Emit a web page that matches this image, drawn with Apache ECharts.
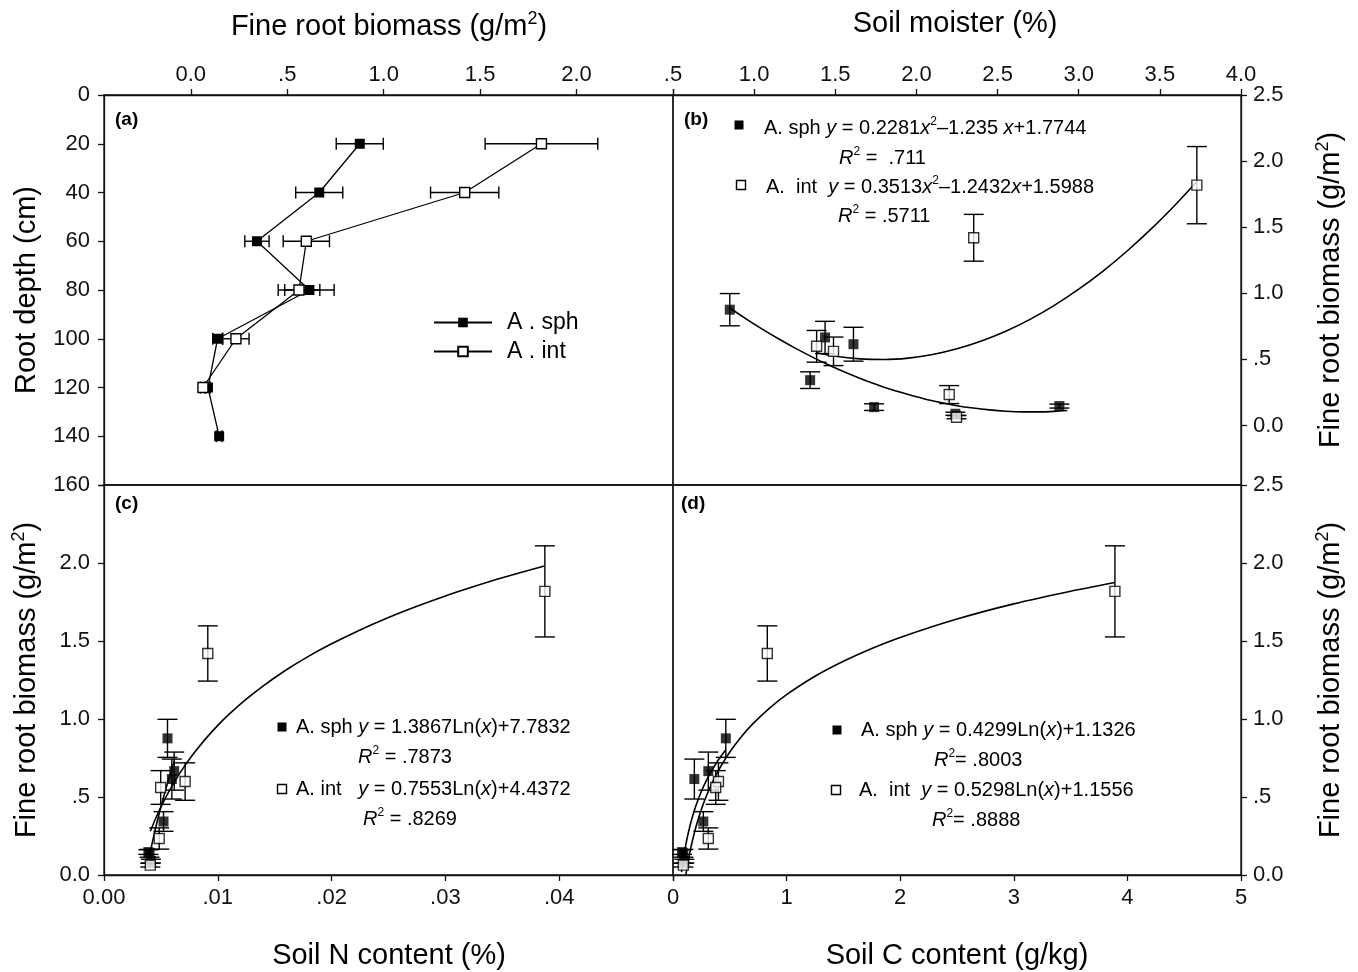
<!DOCTYPE html>
<html><head><meta charset="utf-8">
<script src="https://cdn.jsdelivr.net/npm/echarts@6/dist/echarts.min.js"></script>
<style>html,body{margin:0;padding:0;background:#fff}#c{width:1358px;height:972px}</style>
</head><body><div id="c"></div>
<script>
// ---------- data ----------
const sphDepth = [20, 40, 60, 80, 100, 120, 140];
const sphBiomass = [0.876, 0.666, 0.343, 0.615, 0.139, 0.089, 0.147];
const sphBiomassSE = [0.122, 0.122, 0.063, 0.128, 0.025, 0.012, 0.015];
const intDepth = [20, 40, 60, 80, 100, 120];
const intBiomass = [1.818, 1.420, 0.599, 0.561, 0.234, 0.063];
const intBiomassSE = [0.292, 0.177, 0.120, 0.108, 0.068, 0.012];

const sphMoisture = [0.85, 1.437, 1.345, 1.612, 1.739, 2.24, 2.881];
const intMoisture = [3.728, 2.353, 1.385, 1.489, 2.202, 2.247];
const sphN = [0.00558, 0.00617, 0.00523, 0.00596, 0.00400, 0.00412, 0.00390];
const intN = [0.03874, 0.00912, 0.00713, 0.00498, 0.00485, 0.00407];
const sphC = [0.465, 0.311, 0.267, 0.188, 0.091, 0.100, 0.080];
const intC = [3.89, 0.83, 0.40, 0.376, 0.311, 0.091];

// fitted curves, points
const fitB_sph_x = [0.85, 0.95, 1.05, 1.15, 1.25, 1.35, 1.45, 1.55, 1.65, 1.75, 1.85, 1.95, 2.05, 2.15, 2.25, 2.35, 2.45, 2.55, 2.65, 2.75, 2.85, 2.93];
const fitB_sph_y = [0.889, 0.807, 0.729, 0.656, 0.587, 0.523, 0.463, 0.408, 0.358, 0.312, 0.270, 0.234, 0.201, 0.174, 0.150, 0.132, 0.118, 0.108, 0.103, 0.103, 0.107, 0.114];
const fitB_int_x = [1.385, 1.5, 1.65, 1.8, 1.95, 2.1, 2.25, 2.4, 2.55, 2.7, 2.85, 3.0, 3.15, 3.3, 3.45, 3.6, 3.728];
const fitB_int_y = [0.551, 0.524, 0.504, 0.499, 0.510, 0.537, 0.580, 0.639, 0.713, 0.803, 0.909, 1.031, 1.168, 1.322, 1.491, 1.676, 1.846];
const fitC_sph_x = [0.0040, 0.0045, 0.0050, 0.0055, 0.0060, 0.0062];
const fitC_sph_y = [0.127, 0.290, 0.436, 0.568, 0.689, 0.734];
const fitC_int_x = [0.00407, 0.0045, 0.005, 0.0055, 0.006, 0.0065, 0.007, 0.0075, 0.008, 0.009, 0.010, 0.011, 0.0125, 0.014, 0.016, 0.018, 0.020, 0.0225, 0.025, 0.0275, 0.030, 0.0325, 0.035, 0.0387];
const fitC_int_y = [0.280, 0.356, 0.435, 0.507, 0.573, 0.634, 0.690, 0.742, 0.790, 0.879, 0.959, 1.031, 1.127, 1.213, 1.314, 1.403, 1.482, 1.571, 1.651, 1.723, 1.789, 1.849, 1.905, 1.981];
const fitD_sph_x = [0.075, 0.09, 0.10, 0.12, 0.14, 0.16, 0.2, 0.25, 0.3, 0.35, 0.4, 0.465];
const fitD_sph_y = [0.019, 0.097, 0.143, 0.221, 0.287, 0.345, 0.441, 0.537, 0.615, 0.681, 0.739, 0.803];
const fitD_int_x = [0.113, 0.13, 0.15, 0.175, 0.2, 0.25, 0.3, 0.35, 0.4, 0.5, 0.6, 0.7, 0.85, 1.0, 1.25, 1.5, 1.75, 2.0, 2.5, 3.0, 3.5, 3.89];
const fitD_int_y = [0.000, 0.075, 0.151, 0.232, 0.303, 0.421, 0.518, 0.599, 0.670, 0.788, 0.885, 0.967, 1.070, 1.156, 1.274, 1.370, 1.452, 1.523, 1.641, 1.738, 1.819, 1.875];

// tick values
const bioTicksA = [0, 0.5, 1.0, 1.5, 2.0];
const bioTicksFull = [0, 0.5, 1.0, 1.5, 2.0, 2.5];
const nTicks = [0, 0.01, 0.02, 0.03, 0.04];
const nTicksAll = [0, 0.01, 0.02, 0.03, 0.04, 0.05];

// ---------- helpers ----------
const FF = '"Liberation Sans", Arial, Helvetica, sans-serif';
const BLACK = '#111';
const zip = (a, b) => a.map((v, i) => [v, b[i]]);
const fmt1 = v => v === 0 ? '0.0' : (Math.abs(v) < 1 ? v.toFixed(1).replace(/^0/, '') : v.toFixed(1));
const fmtN = v => v === 0 ? '0.00' : v.toFixed(2).replace(/^0/, '');

function axisCommon(extra) {
  return Object.assign({
    type: 'value',
    axisLine: { show: true, onZero: false, lineStyle: { color: BLACK, width: 1.3 } },
    axisTick: { show: true, inside: false, length: 6, lineStyle: { color: BLACK, width: 1.3 } },
    splitLine: { show: false },
    axisLabel: { color: BLACK, fontSize: 22, fontFamily: FF, hideOverlap: false }
  }, extra);
}

function vErr(params, api) {
  const x = api.value(0), y = api.value(1), e = api.value(2);
  const t = api.coord([x, y + e]), b = api.coord([x, y - e]);
  const hw = 10, st = { stroke: '#000', lineWidth: 1.4 };
  return { type: 'group', children: [
    { type: 'line', shape: { x1: t[0], y1: t[1], x2: b[0], y2: b[1] }, style: st },
    { type: 'line', shape: { x1: t[0] - hw, y1: t[1], x2: t[0] + hw, y2: t[1] }, style: st },
    { type: 'line', shape: { x1: b[0] - hw, y1: b[1], x2: b[0] + hw, y2: b[1] }, style: st }
  ]};
}
function hErr(params, api) {
  const x = api.value(0), y = api.value(1), e = api.value(2);
  const l = api.coord([x - e, y]), r = api.coord([x + e, y]);
  const hh = 6, st = { stroke: '#000', lineWidth: 1.4 };
  return { type: 'group', children: [
    { type: 'line', shape: { x1: l[0], y1: l[1], x2: r[0], y2: r[1] }, style: st },
    { type: 'line', shape: { x1: l[0], y1: l[1] - hh, x2: l[0], y2: l[1] + hh }, style: st },
    { type: 'line', shape: { x1: r[0], y1: r[1] - hh, x2: r[0], y2: r[1] + hh }, style: st }
  ]};
}
const filledStyle = { color: '#000' };
const openStyle = { color: '#fff', borderColor: '#000', borderWidth: 1.4 };

function errSeries(xi, data, horiz) {
  return { type: 'custom', xAxisIndex: xi, yAxisIndex: xi, renderItem: horiz ? hErr : vErr,
    data: data, encode: { x: 0, y: 1 }, z: 2, silent: true };
}
function scat(xi, data, open) {
  return { type: 'scatter', xAxisIndex: xi, yAxisIndex: xi, symbol: 'rect', symbolSize: 10,
    itemStyle: open ? openStyle : filledStyle, data: data, z: 4, silent: true };
}
function fit(xi, xs, ys) {
  return { type: 'line', xAxisIndex: xi, yAxisIndex: xi, data: zip(xs, ys), smooth: 0.25,
    symbol: 'none', lineStyle: { color: '#000', width: 1.6 }, z: 3, silent: true };
}

const rich = (fs) => ({
  n: { fontSize: fs, fontFamily: FF, fill: '#000', lineHeight: fs + 4 },
  i: { fontSize: fs, fontFamily: FF, fontStyle: 'italic', fill: '#000', lineHeight: fs + 4 },
  s: { fontSize: Math.round(fs * 0.62), fontFamily: FF, fill: '#000', verticalAlign: 'top', lineHeight: Math.round(fs * 0.62) }
});
function txt(x, y, text, fs, opts) {
  opts = opts || {};
  return { type: 'text', x: x, y: y, rotation: opts.rot || 0, z: 10, silent: true,
    style: { text: text, rich: rich(fs), fontSize: fs, fontFamily: FF, fill: '#000',
      fontWeight: opts.bold ? 'bold' : 'normal',
      align: opts.align || 'left', verticalAlign: 'middle' } };
}
function mark(cx, cy, open) {
  return { type: 'rect', shape: { x: cx - 4.5, y: cy - 4.5, width: 9, height: 9 }, z: 10, silent: true,
    style: open ? { fill: '#fff', stroke: '#000', lineWidth: 1.4 } : { fill: '#000' } };
}

const chart = echarts.init(document.getElementById('c'));
const gridStyle = { show: true, borderColor: BLACK, borderWidth: 1.3, backgroundColor: 'transparent' };

chart.setOption({
  animation: false,
  backgroundColor: '#fff',
  textStyle: { fontFamily: FF },
  grid: [
    Object.assign({ left: 104, top: 95, width: 569, height: 390 }, gridStyle),
    Object.assign({ left: 673, top: 95, width: 568, height: 390 }, gridStyle),
    Object.assign({ left: 104, top: 485, width: 569, height: 390 }, gridStyle),
    Object.assign({ left: 673, top: 485, width: 568, height: 390 }, gridStyle)
  ],
  xAxis: [
    axisCommon({ gridIndex: 0, position: 'top', min: -0.45, max: 2.5,
      axisLabel: { color: BLACK, fontSize: 22, fontFamily: FF, margin: 9, customValues: bioTicksA, formatter: fmt1 },
      axisTick: { show: true, length: 6, lineStyle: { color: BLACK, width: 1.3 }, customValues: bioTicksFull } }),
    axisCommon({ gridIndex: 1, position: 'top', min: 0.5, max: 4.0, interval: 0.5,
      axisLabel: { color: BLACK, fontSize: 22, fontFamily: FF, margin: 9, showMinLabel: true, showMaxLabel: true, formatter: fmt1 } }),
    axisCommon({ gridIndex: 2, position: 'bottom', min: 0, max: 0.05,
      axisLabel: { color: BLACK, fontSize: 22, fontFamily: FF, margin: 12, customValues: nTicks, formatter: fmtN },
      axisTick: { show: true, length: 6, lineStyle: { color: BLACK, width: 1.3 }, customValues: nTicksAll } }),
    axisCommon({ gridIndex: 3, position: 'bottom', min: 0, max: 5, interval: 1,
      axisLabel: { color: BLACK, fontSize: 22, fontFamily: FF, margin: 12, showMinLabel: true, showMaxLabel: true } })
  ],
  yAxis: [
    axisCommon({ gridIndex: 0, position: 'left', inverse: true, min: 0, max: 160, interval: 20,
      axisLabel: { color: BLACK, fontSize: 22, fontFamily: FF, margin: 14, showMinLabel: true, showMaxLabel: true } }),
    axisCommon({ gridIndex: 1, position: 'right', min: -0.45, max: 2.5,
      axisLabel: { color: BLACK, fontSize: 22, fontFamily: FF, margin: 12, customValues: bioTicksFull, formatter: fmt1 },
      axisTick: { show: true, length: 6, lineStyle: { color: BLACK, width: 1.3 }, customValues: bioTicksFull } }),
    axisCommon({ gridIndex: 2, position: 'left', min: 0, max: 2.5,
      axisLabel: { color: BLACK, fontSize: 22, fontFamily: FF, margin: 14, customValues: bioTicksA, formatter: fmt1 },
      axisTick: { show: true, length: 6, lineStyle: { color: BLACK, width: 1.3 }, customValues: bioTicksFull } }),
    axisCommon({ gridIndex: 3, position: 'right', min: 0, max: 2.5, interval: 0.5,
      axisLabel: { color: BLACK, fontSize: 22, fontFamily: FF, margin: 12, showMinLabel: true, showMaxLabel: true, formatter: fmt1 } })
  ],
  legend: {
    data: ['A . sph', 'A . int'], orient: 'vertical', left: 428, top: 306,
    itemWidth: 58, itemHeight: 12, itemGap: 6, selectedMode: false,
    textStyle: { fontSize: 23, fontFamily: FF, color: '#000', padding: [0, 0, 0, 10] }
  },
  series: [
    // (a)
    errSeries(0, sphDepth.map((d, i) => [sphBiomass[i], d, sphBiomassSE[i]]), true),
    errSeries(0, intDepth.map((d, i) => [intBiomass[i], d, intBiomassSE[i]]), true),
    { name: 'A . sph', type: 'line', xAxisIndex: 0, yAxisIndex: 0, symbol: 'rect', symbolSize: 10,
      data: sphDepth.map((d, i) => [sphBiomass[i], d]), itemStyle: filledStyle,
      lineStyle: { color: '#000', width: 1.3 }, z: 4 },
    { name: 'A . int', type: 'line', xAxisIndex: 0, yAxisIndex: 0, symbol: 'rect', symbolSize: 10,
      data: intDepth.map((d, i) => [intBiomass[i], d]), itemStyle: openStyle,
      lineStyle: { color: '#000', width: 1.3 }, z: 4 },
    // (b)
    fit(1, fitB_sph_x, fitB_sph_y), fit(1, fitB_int_x, fitB_int_y),
    errSeries(1, sphMoisture.map((m, i) => [m, sphBiomass[i], sphBiomassSE[i]])),
    errSeries(1, intMoisture.map((m, i) => [m, intBiomass[i], intBiomassSE[i]])),
    scat(1, zip(sphMoisture, sphBiomass), false), scat(1, zip(intMoisture, intBiomass), true),
    // (c)
    fit(2, fitC_sph_x, fitC_sph_y), fit(2, fitC_int_x, fitC_int_y),
    errSeries(2, sphN.map((m, i) => [m, sphBiomass[i], sphBiomassSE[i]])),
    errSeries(2, intN.map((m, i) => [m, intBiomass[i], intBiomassSE[i]])),
    scat(2, zip(sphN, sphBiomass), false), scat(2, zip(intN, intBiomass), true),
    // (d)
    fit(3, fitD_sph_x, fitD_sph_y), fit(3, fitD_int_x, fitD_int_y),
    errSeries(3, sphC.map((m, i) => [m, sphBiomass[i], sphBiomassSE[i]])),
    errSeries(3, intC.map((m, i) => [m, intBiomass[i], intBiomassSE[i]])),
    scat(3, zip(sphC, sphBiomass), false), scat(3, zip(intC, intBiomass), true)
  ],
  graphic: [
    // axis titles
    txt(389, 27, '{n|Fine root biomass (g/m}{s|2}{n|)}', 29, { align: 'center' }),
    txt(955, 24, '{n|Soil moister (%)}', 29, { align: 'center' }),
    txt(389, 956, '{n|Soil N content (%)}', 29, { align: 'center' }),
    txt(957, 956, '{n|Soil C content (g/kg)}', 29, { align: 'center' }),
    txt(27, 290, '{n|Root depth (cm)}', 29, { align: 'center', rot: Math.PI / 2 }),
    txt(27, 680, '{n|Fine root biomass (g/m}{s|2}{n|)}', 29, { align: 'center', rot: Math.PI / 2 }),
    txt(1331, 290, '{n|Fine root biomass (g/m}{s|2}{n|)}', 29, { align: 'center', rot: Math.PI / 2 }),
    txt(1331, 680, '{n|Fine root biomass (g/m}{s|2}{n|)}', 29, { align: 'center', rot: Math.PI / 2 }),
    // panel letters
    txt(115, 120, '(a)', 19, { bold: true }),
    txt(684, 120, '(b)', 19, { bold: true }),
    txt(115, 504, '(c)', 19, { bold: true }),
    txt(681, 504, '(d)', 19, { bold: true }),
    // (b) equations
    mark(739, 125, false),
    txt(764, 128, '{n|A. sph }{i|y}{n| = 0.2281}{i|x}{s|2}{n|\u20131.235 }{i|x}{n|+1.7744}', 20),
    txt(839, 158, '{i|R}{s|2}{n| =  .711}', 20),
    mark(741, 185, true),
    txt(766, 187, '{n|A.  int  }{i|y}{n| = 0.3513}{i|x}{s|2}{n|\u20131.2432}{i|x}{n|+1.5988}', 20),
    txt(838, 216, '{i|R}{s|2}{n| = .5711}', 20),
    // (c) equations
    mark(282, 727, false),
    txt(296, 727, '{n|A. sph }{i|y}{n| = 1.3867Ln(}{i|x}{n|)+7.7832}', 20),
    txt(358, 757, '{i|R}{s|2}{n| = .7873}', 20),
    mark(282, 789, true),
    txt(296, 789, '{n|A. int   }{i|y}{n| = 0.7553Ln(}{i|x}{n|)+4.4372}', 20),
    txt(363, 819, '{i|R}{s|2}{n| = .8269}', 20),
    // (d) equations
    mark(837, 730, false),
    txt(861, 730, '{n|A. sph }{i|y}{n| = 0.4299Ln(}{i|x}{n|)+1.1326}', 20),
    txt(934, 760, '{i|R}{s|2}{n|= .8003}', 20),
    mark(836, 790, true),
    txt(859, 790, '{n|A.  int  }{i|y}{n| = 0.5298Ln(}{i|x}{n|)+1.1556}', 20),
    txt(932, 820, '{i|R}{s|2}{n|= .8888}', 20)
  ]
});
</script></body></html>
